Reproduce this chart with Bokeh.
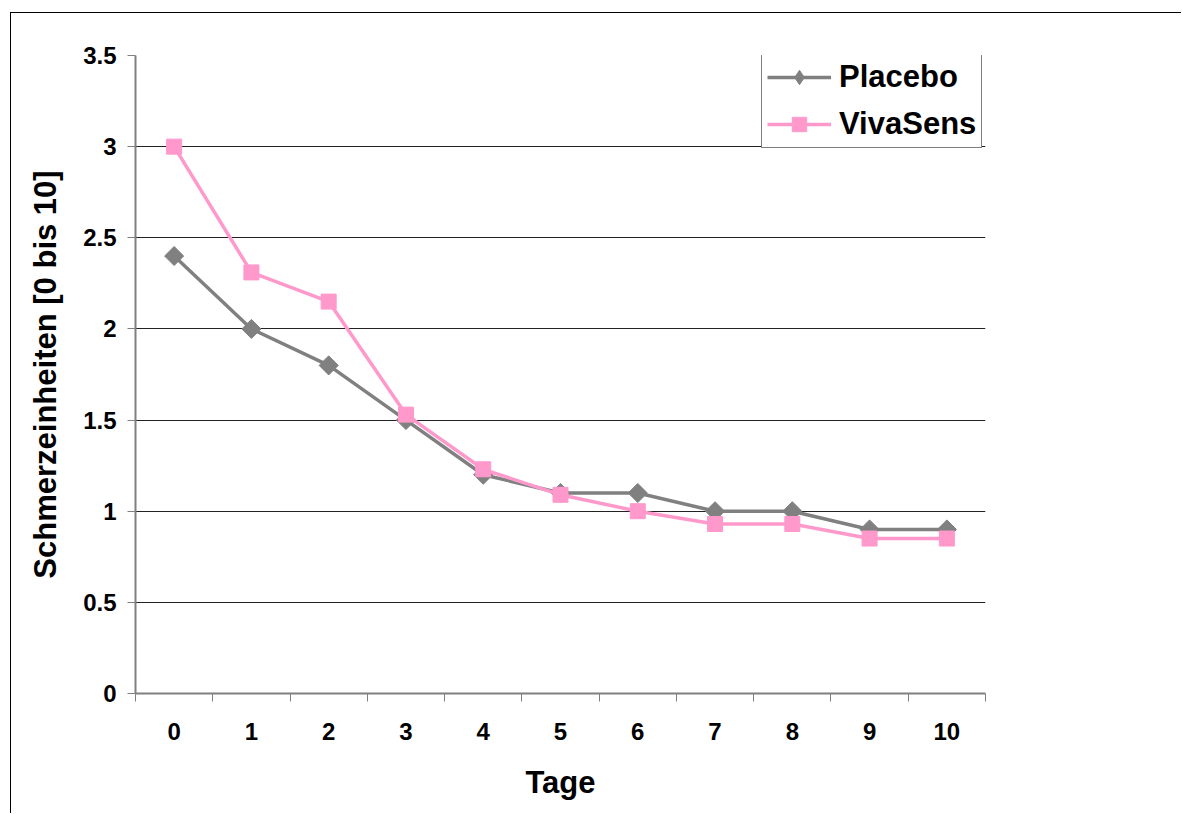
import math
from bokeh.plotting import figure
from bokeh.models import FixedTicker, Legend, LegendItem, Range1d
from bokeh.embed import file_html
from bokeh.resources import INLINE

tage = list(range(11))
placebo = [2.4, 2.0, 1.8, 1.5, 1.2, 1.1, 1.1, 1.0, 1.0, 0.9, 0.9]
vivasens = [3.0, 2.31, 2.15, 1.53, 1.23, 1.09, 1.0, 0.93, 0.93, 0.85, 0.85]
y_ticks = [0, 0.5, 1, 1.5, 2, 2.5, 3, 3.5]
grid_ticks = [0.5, 1, 1.5, 2, 2.5, 3]
series_names = ["Placebo", "VivaSens"]
x_title = "Tage"
y_title = "Schmerzeinheiten [0 bis 10]"

FONT = "Liberation Sans"
GREY = "#808080"
PINK = "#FF99CC"

p = figure(frame_width=850, frame_height=638,
           x_range=Range1d(-0.5, 10.5), y_range=Range1d(0, 3.5),
           output_backend="svg", toolbar_location=None,
           min_border_left=124, min_border_top=42,
           min_border_right=196, min_border_bottom=120)
p.margin = (12, 0, 0, 10)
p.styles = {"border-top": "1px solid #000", "border-left": "1px solid #000"}
p.outline_line_color = None
p.background_fill_color = "white"
p.border_fill_color = "white"

# axes
xa = p.xaxis[0]
xa.ticker = FixedTicker(ticks=tage, minor_ticks=[t - 0.5 for t in tage] + [tage[-1] + 0.5])
xa.major_tick_out = 0
xa.major_tick_in = 0
xa.minor_tick_out = 8
xa.minor_tick_in = 0
xa.minor_tick_line_color = GREY
xa.minor_tick_line_width = 1
xa.axis_line_color = GREY
xa.axis_line_width = 2
xa.major_label_standoff = 21
xa.major_label_text_font = FONT
xa.major_label_text_font_style = "bold"
xa.major_label_text_font_size = "24px"
xa.major_label_text_color = "black"
xa.axis_label = x_title
xa.axis_label_text_font = FONT
xa.axis_label_text_font_style = "bold"
xa.axis_label_text_font_size = "31px"
xa.axis_label_text_color = "black"
xa.axis_label_standoff = 22

ya = p.yaxis[0]
ya.ticker = FixedTicker(ticks=y_ticks, minor_ticks=[])
ya.major_tick_out = 8
ya.major_tick_in = 0
ya.major_tick_line_color = GREY
ya.axis_line_color = GREY
ya.axis_line_width = 2
ya.major_label_standoff = 11
ya.major_label_text_font = FONT
ya.major_label_text_font_style = "bold"
ya.major_label_text_font_size = "24px"
ya.major_label_text_color = "black"
ya.axis_label = y_title
ya.axis_label_text_font = FONT
ya.axis_label_text_font_style = "bold"
ya.axis_label_text_font_size = "31px"
ya.axis_label_text_color = "black"
ya.axis_label_standoff = 17

p.xgrid.grid_line_color = None
p.ygrid.ticker = FixedTicker(ticks=grid_ticks)
p.ygrid.grid_line_color = "#222222"
p.ygrid.grid_line_width = 1

# series
r1 = p.line(tage, placebo, line_color=GREY, line_width=3.5)
m1 = p.scatter(tage, placebo, marker="square", angle=math.pi / 4, size=13.5,
               fill_color=GREY, line_color=GREY)
r2 = p.line(tage, vivasens, line_color=PINK, line_width=3.5)
m2 = p.scatter(tage, vivasens, marker="square", size=15,
               fill_color=PINK, line_color=PINK)
# diamond marker used only for the legend swatch (legend markers are never rotated)
m1_leg = p.scatter(tage, placebo, marker="diamond", size=15,
                   fill_color=GREY, line_color=GREY, visible=False)

legend = Legend(items=[LegendItem(label=series_names[0], renderers=[r1, m1_leg]),
                       LegendItem(label=series_names[1], renderers=[r2, m2])],
                location=(626, 545))
legend.label_text_font = FONT
legend.label_text_font_style = "bold"
legend.label_text_font_size = "31px"
legend.label_text_color = "black"
legend.glyph_width = 64
legend.glyph_height = 36
legend.label_height = 36
legend.label_standoff = 8
legend.spacing = 11
legend.padding = 5
legend.margin = 0
legend.border_line_color = "black"
legend.border_line_width = 1
legend.background_fill_color = "white"
legend.background_fill_alpha = 1
p.add_layout(legend, "center")

open("out.html", "w").write(file_html(p, INLINE))
